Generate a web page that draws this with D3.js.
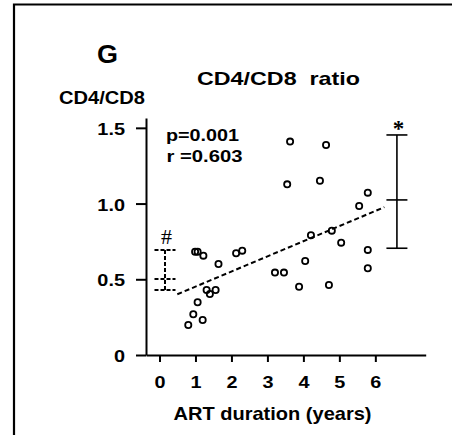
<!DOCTYPE html>
<html>
<head>
<meta charset="utf-8">
<script src="https://cdn.jsdelivr.net/npm/d3@7"></script>
<style>
  body { margin: 0; background: #fff; }
  text { font-family: 'Liberation Sans', Arial, sans-serif; font-weight: bold; fill: #000; }
  .axis path, .axis line { stroke: #000; stroke-width: 2; }
</style>
</head>
<body>
<div id="chart"></div>
<script>
// ART duration (years) and CD4/CD8 ratio per patient
var artYears = [0.99, 1.06, 1.22, 1.64, 2.13, 2.30, 1.31, 1.40, 1.56, 1.06, 0.94, 1.20, 0.80,
  3.63, 4.63, 3.55, 4.46, 5.79, 5.55, 4.21, 4.79, 5.05, 5.79, 4.05, 3.21, 3.46, 5.79, 3.88, 4.71];
var ratios = [0.682, 0.682, 0.656, 0.601, 0.672, 0.689, 0.429, 0.403, 0.429, 0.348, 0.269, 0.231, 0.198,
  1.409, 1.387, 1.127, 1.151, 1.072, 0.984, 0.791, 0.821, 0.742, 0.694, 0.621, 0.544, 0.544, 0.573, 0.451, 0.462];

// fitted line ends
var fitX = [0.495, 6.25];
var fitY = [0.401, 0.976];

// reference groups: [x, low, mid, high]
var untreated = [0.153, 0.429, 0.502, 0.694];
var healthy = [6.6, 0.705, 1.024, 1.453];

var xTicks = [0, 1, 2, 3, 4, 5, 6];
var yTicks = [0, 0.5, 1.0, 1.5];
var yTickLabels = ['0', '0.5', '1.0', '1.5'];

var width = 452;
var height = 435;

var svg = d3.select('#chart').append('svg')
  .attr('width', width)
  .attr('height', height);

svg.append('path')
  .attr('d', 'M14,' + height + 'V4.5H' + width)
  .attr('fill', 'none')
  .attr('stroke', '#000')
  .attr('stroke-width', 2.2);

var x = d3.scaleLinear().domain([-0.375, 7.4]).range([146, 425.7]);
var y = d3.scaleLinear().domain([0, 1.565]).range([355, 118]);

// horizontal text stretch like the original figure
function stretch(sel, f) {
  sel.each(function() {
    var len = this.getComputedTextLength();
    d3.select(this).attr('textLength', len * f).attr('lengthAdjust', 'spacingAndGlyphs');
  });
}

var xAxis = d3.axisBottom(x)
  .tickValues(xTicks)
  .tickSize(7)
  .tickSizeOuter(0)
  .tickFormat(d3.format('d'));

var yAxis = d3.axisLeft(y)
  .tickValues(yTicks)
  .tickSize(10)
  .tickSizeOuter(0)
  .tickFormat(function(d, i) { return yTickLabels[i]; });

var gx = svg.append('g')
  .attr('class', 'x axis')
  .attr('transform', 'translate(0,' + y(0) + ')')
  .call(xAxis);

gx.selectAll('text')
  .attr('y', 0)
  .attr('dy', 0)
  .attr('transform', 'translate(0,33)')
  .style('font-size', '16.5px')
  .call(stretch, 1.2);

var gy = svg.append('g')
  .attr('class', 'y axis')
  .attr('transform', 'translate(' + x.range()[0] + ',0)')
  .call(yAxis);

gy.selectAll('text')
  .attr('x', -21)
  .attr('dy', '0.38em')
  .style('font-size', '17px')
  .call(stretch, 1.17);

svg.selectAll('.axis text').style('font-family', null);

// regression line
svg.append('line')
  .attr('x1', x(fitX[0]))
  .attr('y1', y(fitY[0]))
  .attr('x2', x(fitX[1]))
  .attr('y2', y(fitY[1]))
  .attr('stroke', '#000')
  .attr('stroke-width', 2)
  .attr('stroke-dasharray', '5,3');

// error bars
function errorBar(d, dash, sw) {
  var g = svg.append('g')
    .attr('stroke', '#000')
    .attr('stroke-width', sw)
    .attr('stroke-dasharray', dash);
  g.append('line')
    .attr('x1', x(d[0])).attr('x2', x(d[0]))
    .attr('y1', y(d[1])).attr('y2', y(d[3]));
  g.selectAll('.cap')
    .data([d[1], d[2], d[3]])
    .enter().append('line')
    .attr('class', 'cap')
    .attr('x1', x(d[0]) - 10.5)
    .attr('x2', x(d[0]) + 10.5)
    .attr('y1', function(v) { return y(v); })
    .attr('y2', function(v) { return y(v); });
}
errorBar(untreated, '4,2', 2);
errorBar(healthy, null, 1.6);

svg.append('text')
  .attr('x', x(untreated[0]) + 1.5)
  .attr('y', 243.5)
  .attr('text-anchor', 'middle')
  .style('font-family', "'Liberation Serif', serif")
  .style('font-weight', 'normal')
  .style('font-size', '22px')
  .text('#');

svg.append('text')
  .attr('x', x(healthy[0]) + 1.5)
  .attr('y', 136)
  .attr('text-anchor', 'middle')
  .style('font-family', "'Liberation Serif', serif")
  .style('font-size', '23px')
  .text('*');

// data points
svg.append('g')
  .selectAll('circle')
  .data(artYears)
  .enter().append('circle')
  .attr('cx', function(d) { return x(d); })
  .attr('cy', function(d, i) { return y(ratios[i]); })
  .attr('r', 3.1)
  .attr('fill', 'none')
  .attr('stroke', '#000')
  .attr('stroke-width', 1.8);

// labels
svg.append('text')
  .attr('x', 97)
  .attr('y', 63)
  .style('font-size', '25px')
  .attr('textLength', 21)
  .attr('lengthAdjust', 'spacingAndGlyphs')
  .text('G');

svg.append('text')
  .attr('x', 197)
  .attr('y', 85)
  .style('font-size', '18.5px')
  .style('white-space', 'pre')
  .attr('textLength', 163)
  .attr('lengthAdjust', 'spacingAndGlyphs')
  .text('CD4/CD8  ratio');

svg.append('text')
  .attr('x', 59)
  .attr('y', 104)
  .style('font-size', '17.5px')
  .attr('textLength', 86)
  .attr('lengthAdjust', 'spacingAndGlyphs')
  .text('CD4/CD8');

svg.append('text')
  .attr('x', 166)
  .attr('y', 141)
  .style('font-size', '16.3px')
  .attr('textLength', 73)
  .attr('lengthAdjust', 'spacingAndGlyphs')
  .text('p=0.001');

svg.append('text')
  .attr('x', 166.5)
  .attr('y', 161.5)
  .style('font-size', '16.3px')
  .style('white-space', 'pre')
  .attr('textLength', 76)
  .attr('lengthAdjust', 'spacingAndGlyphs')
  .text('r =0.603');

svg.append('text')
  .attr('x', 173.5)
  .attr('y', 420)
  .style('font-size', '17.7px')
  .attr('textLength', 198)
  .attr('lengthAdjust', 'spacingAndGlyphs')
  .text('ART duration (years)');
</script>
</body>
</html>
